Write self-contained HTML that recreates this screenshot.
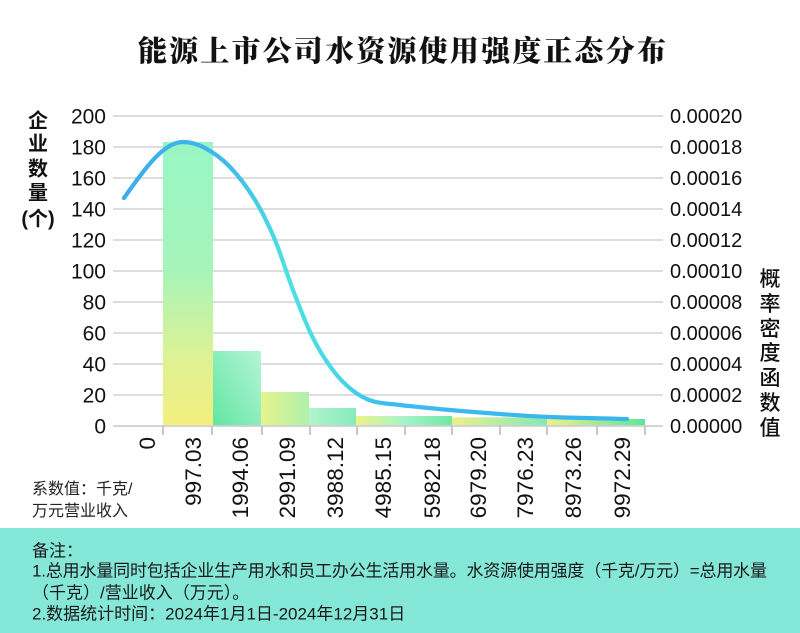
<!DOCTYPE html>
<html>
<head>
<meta charset="utf-8">
<style>
html,body{margin:0;padding:0;background:#fff;}
svg{display:block;}
</style>
</head>
<body>
<svg width="800" height="633" viewBox="0 0 800 633" xmlns="http://www.w3.org/2000/svg">
<defs>
  <linearGradient id="b1" x1="0" y1="0" x2="0" y2="1">
    <stop offset="0" stop-color="#98f6c4"/>
    <stop offset="0.45" stop-color="#a6f4ba"/>
    <stop offset="0.75" stop-color="#dcf294"/>
    <stop offset="1" stop-color="#f4ef7e"/>
  </linearGradient>
  <linearGradient id="b2" x1="1" y1="0" x2="0" y2="1">
    <stop offset="0" stop-color="#b4f5d4"/>
    <stop offset="1" stop-color="#62e6a4"/>
  </linearGradient>
  <linearGradient id="b3" x1="0" y1="0" x2="1" y2="0">
    <stop offset="0" stop-color="#e6f48c"/>
    <stop offset="1" stop-color="#b0f0ac"/>
  </linearGradient>
  <linearGradient id="b4" x1="0" y1="0" x2="1" y2="0">
    <stop offset="0" stop-color="#b2f3cc"/>
    <stop offset="1" stop-color="#86ebbc"/>
  </linearGradient>
  <linearGradient id="b5" x1="0" y1="0" x2="1" y2="0">
    <stop offset="0" stop-color="#eef28a"/>
    <stop offset="0.5" stop-color="#a6f4c8"/>
    <stop offset="1" stop-color="#6ee8a6"/>
  </linearGradient>
  <linearGradient id="b6" x1="0" y1="0" x2="1" y2="0">
    <stop offset="0" stop-color="#ecf08a"/>
    <stop offset="1" stop-color="#80eab8"/>
  </linearGradient>
  <linearGradient id="b7" x1="0" y1="0" x2="1" y2="0">
    <stop offset="0" stop-color="#eef08a"/>
    <stop offset="1" stop-color="#5ce69e"/>
  </linearGradient>
  <linearGradient id="cv" gradientUnits="userSpaceOnUse" x1="124" y1="0" x2="627" y2="0">
    <stop offset="0" stop-color="#3aaee8"/>
    <stop offset="0.2" stop-color="#3fb8ea"/>
    <stop offset="0.32" stop-color="#4de0e2"/>
    <stop offset="0.42" stop-color="#4ad8e6"/>
    <stop offset="0.52" stop-color="#3cbcee"/>
    <stop offset="1" stop-color="#3ab4ee"/>
  </linearGradient>
</defs>

<!-- Title -->
<text x="138" y="61" textLength="528" lengthAdjust="spacing" font-family="'Liberation Serif','Noto Serif CJK SC',serif" font-weight="900" font-size="29" fill="#111">能源上市公司水资源使用强度正态分布</text>

<!-- Gridlines -->
<g stroke="#d2d2d2" stroke-width="1.6">
  <line x1="113" y1="116" x2="663" y2="116"/>
  <line x1="113" y1="147" x2="663" y2="147"/>
  <line x1="113" y1="178" x2="663" y2="178"/>
  <line x1="113" y1="209" x2="663" y2="209"/>
  <line x1="113" y1="240" x2="663" y2="240"/>
  <line x1="113" y1="271" x2="663" y2="271"/>
  <line x1="113" y1="302" x2="663" y2="302"/>
  <line x1="113" y1="333" x2="663" y2="333"/>
  <line x1="113" y1="364" x2="663" y2="364"/>
  <line x1="113" y1="395" x2="663" y2="395"/>
</g>

<!-- Bars -->
<rect x="163" y="142" width="50" height="284" fill="url(#b1)"/>
<rect x="213" y="351" width="48" height="75" fill="url(#b2)"/>
<rect x="261" y="392" width="48" height="34" fill="url(#b3)"/>
<rect x="309" y="408" width="47" height="18" fill="url(#b4)"/>
<rect x="356" y="416" width="96" height="10" fill="url(#b5)"/>
<rect x="452" y="417.3" width="95" height="8.7" fill="url(#b6)"/>
<rect x="547" y="419" width="98" height="7" fill="url(#b7)"/>

<!-- Baseline and ticks -->
<line x1="113" y1="426" x2="663" y2="426" stroke="#cfcfcf" stroke-width="1.8"/>
<g stroke="#c8c8c8" stroke-width="2">
  <line x1="163" y1="426" x2="163" y2="435"/>
  <line x1="212" y1="426" x2="212" y2="435"/>
  <line x1="262" y1="426" x2="262" y2="435"/>
  <line x1="310" y1="426" x2="310" y2="435"/>
  <line x1="357" y1="426" x2="357" y2="435"/>
  <line x1="405" y1="426" x2="405" y2="435"/>
  <line x1="452" y1="426" x2="452" y2="435"/>
  <line x1="500" y1="426" x2="500" y2="435"/>
  <line x1="547" y1="426" x2="547" y2="435"/>
  <line x1="597" y1="426" x2="597" y2="435"/>
  <line x1="645" y1="426" x2="645" y2="435"/>
</g>

<!-- Curve -->
<path d="M124,198 C144,170 163,142 183,142 C191,142 197.2,143.8 205,148 C212.8,152.2 221.7,158.3 230,167 C238.3,175.7 247.5,187.8 255,200 C262.5,212.2 268.7,225 275,240 C281.3,255 286.8,274 293,290 C299.2,306 305.5,322.8 312,336 C318.5,349.2 325.3,360 332,369 C338.7,378 345.3,384.7 352,390 C358.7,395.3 364,398.5 372,401 C380,403.5 387,403.5 400,405 C413,406.5 433.3,408.5 450,410 C466.7,411.5 483.3,412.8 500,414 C516.7,415.2 528.8,416.2 550,417 C571.2,417.8 614.2,418.7 627,419" fill="none" stroke="url(#cv)" stroke-width="4.2" stroke-linecap="round"/>

<!-- Left axis labels -->
<g font-family="'Liberation Sans',sans-serif" font-size="21" fill="#111" text-anchor="end">
  <text x="106" y="123.5">200</text>
  <text x="106" y="154.5">180</text>
  <text x="106" y="185.5">160</text>
  <text x="106" y="216.5">140</text>
  <text x="106" y="247.5">120</text>
  <text x="106" y="278.5">100</text>
  <text x="106" y="309.5">80</text>
  <text x="106" y="340.5">60</text>
  <text x="106" y="371.5">40</text>
  <text x="106" y="402.5">20</text>
  <text x="106" y="433.5">0</text>
</g>

<!-- Right axis labels -->
<g font-family="'Liberation Sans',sans-serif" font-size="20" fill="#111">
  <text x="670" y="123.2">0.00020</text>
  <text x="670" y="154.2">0.00018</text>
  <text x="670" y="185.2">0.00016</text>
  <text x="670" y="216.2">0.00014</text>
  <text x="670" y="247.2">0.00012</text>
  <text x="670" y="278.2">0.00010</text>
  <text x="670" y="309.2">0.00008</text>
  <text x="670" y="340.2">0.00006</text>
  <text x="670" y="371.2">0.00004</text>
  <text x="670" y="402.2">0.00002</text>
  <text x="670" y="433.2">0.00000</text>
</g>

<!-- Left axis title -->
<g font-family="'Liberation Sans','Noto Sans CJK SC',sans-serif" font-size="20" font-weight="bold" fill="#111" text-anchor="middle">
  <text x="38" y="127.6">企</text>
  <text x="38" y="150.6">业</text>
  <text x="38" y="175.6">数</text>
  <text x="38" y="199.6">量</text>
  <text x="38" y="225.6">(个)</text>
</g>

<!-- Right axis title -->
<g font-family="'Liberation Sans','Noto Sans CJK SC',sans-serif" font-size="21" font-weight="500" fill="#111" text-anchor="middle">
  <text x="770" y="286">概</text>
  <text x="770" y="311">率</text>
  <text x="770" y="336">密</text>
  <text x="770" y="360">度</text>
  <text x="770" y="385">函</text>
  <text x="770" y="410">数</text>
  <text x="770" y="435">值</text>
</g>

<!-- X labels (rotated) -->
<g font-family="'Liberation Sans',sans-serif" font-size="22.5" fill="#111" text-anchor="end">
  <text transform="translate(155,437) rotate(-90)">0</text>
  <text transform="translate(201,437) rotate(-90)">997.03</text>
  <text transform="translate(248,437) rotate(-90)">1994.06</text>
  <text transform="translate(295,437) rotate(-90)">2991.09</text>
  <text transform="translate(343,437) rotate(-90)">3988.12</text>
  <text transform="translate(391,437) rotate(-90)">4985.15</text>
  <text transform="translate(440,437) rotate(-90)">5982.18</text>
  <text transform="translate(486,437) rotate(-90)">6979.20</text>
  <text transform="translate(533,437) rotate(-90)">7976.23</text>
  <text transform="translate(581,437) rotate(-90)">8973.26</text>
  <text transform="translate(630,437) rotate(-90)">9972.29</text>
</g>

<!-- Unit note -->
<g font-family="'Liberation Sans','Noto Sans CJK SC',sans-serif" font-size="16" fill="#222">
  <text x="32" y="494">系数值：千克/</text>
  <text x="32" y="516">万元营业收入</text>
</g>

<!-- Notes box -->
<rect x="0" y="528" width="800" height="105" fill="#84e7d7"/>
<g font-family="'Liberation Sans','Noto Sans CJK SC',sans-serif" font-size="17" fill="#1a1a1a">
  <text x="32" y="556.5">备注：</text>
  <text x="32" y="576.5" textLength="735" lengthAdjust="spacing">1.总用水量同时包括企业生产用水和员工办公生活用水量。水资源使用强度（千克/万元）=总用水量</text>
  <text x="32" y="598.5">（千克）/营业收入（万元）。</text>
  <text x="32" y="619.5">2.数据统计时间：2024年1月1日-2024年12月31日</text>
</g>
</svg>
</body>
</html>
